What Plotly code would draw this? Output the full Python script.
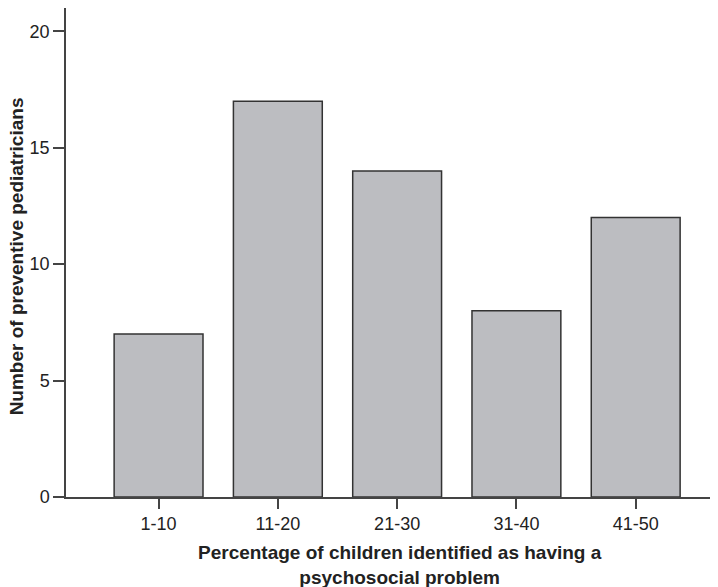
import plotly.graph_objects as go

categories = ["1-10", "11-20", "21-30", "31-40", "41-50"]
counts = [7, 17, 14, 8, 12]
y_ticks = [0, 5, 10, 15, 20]

FONT = "Liberation Sans"
TXT = "#222222"

fig = go.Figure()
fig.add_trace(go.Bar(
    x=categories, y=counts, width=0.745,
    marker=dict(color="#bcbdc1", line=dict(color="#333333", width=1.5)),
))

# page body has an 8px margin, so the figure is sized/offset to compensate
fig.update_layout(
    width=710, height=579,
    margin=dict(l=58, r=0, t=0, b=90, autoexpand=False),
    paper_bgcolor="white", plot_bgcolor="white",
    showlegend=False,
    font=dict(family=FONT, size=18, color=TXT),
    xaxis=dict(
        range=[-0.776, 4.69], showline=True, linecolor="#444444", linewidth=1.5,
        ticks="outside", ticklen=10, tickcolor="#444444", tickwidth=1.5,
        showgrid=False, zeroline=False, tickfont=dict(size=18, color=TXT),
    ),
    yaxis=dict(
        range=[0, 21], showline=True, linecolor="#444444", linewidth=1.5,
        ticks="outside", ticklen=11, tickcolor="#444444", tickwidth=1.5,
        tickvals=y_ticks, showgrid=False, zeroline=False,
        tickfont=dict(size=18, color=TXT),
    ),
    annotations=[
        dict(text="<b>Percentage of children identified as having a<br>psychosocial problem</b>",
             xref="paper", yref="paper", x=0.512, y=-0.087, xanchor="center", yanchor="top",
             showarrow=False, font=dict(size=19, color=TXT, family=FONT)),
        dict(text="<b>Number of preventive pediatricians</b>",
             xref="paper", yref="paper", x=-0.076, y=0.493, xanchor="center", yanchor="middle",
             textangle=-90, showarrow=False, font=dict(size=19, color=TXT, family=FONT)),
    ],
)

fig.write_html("out.html")
